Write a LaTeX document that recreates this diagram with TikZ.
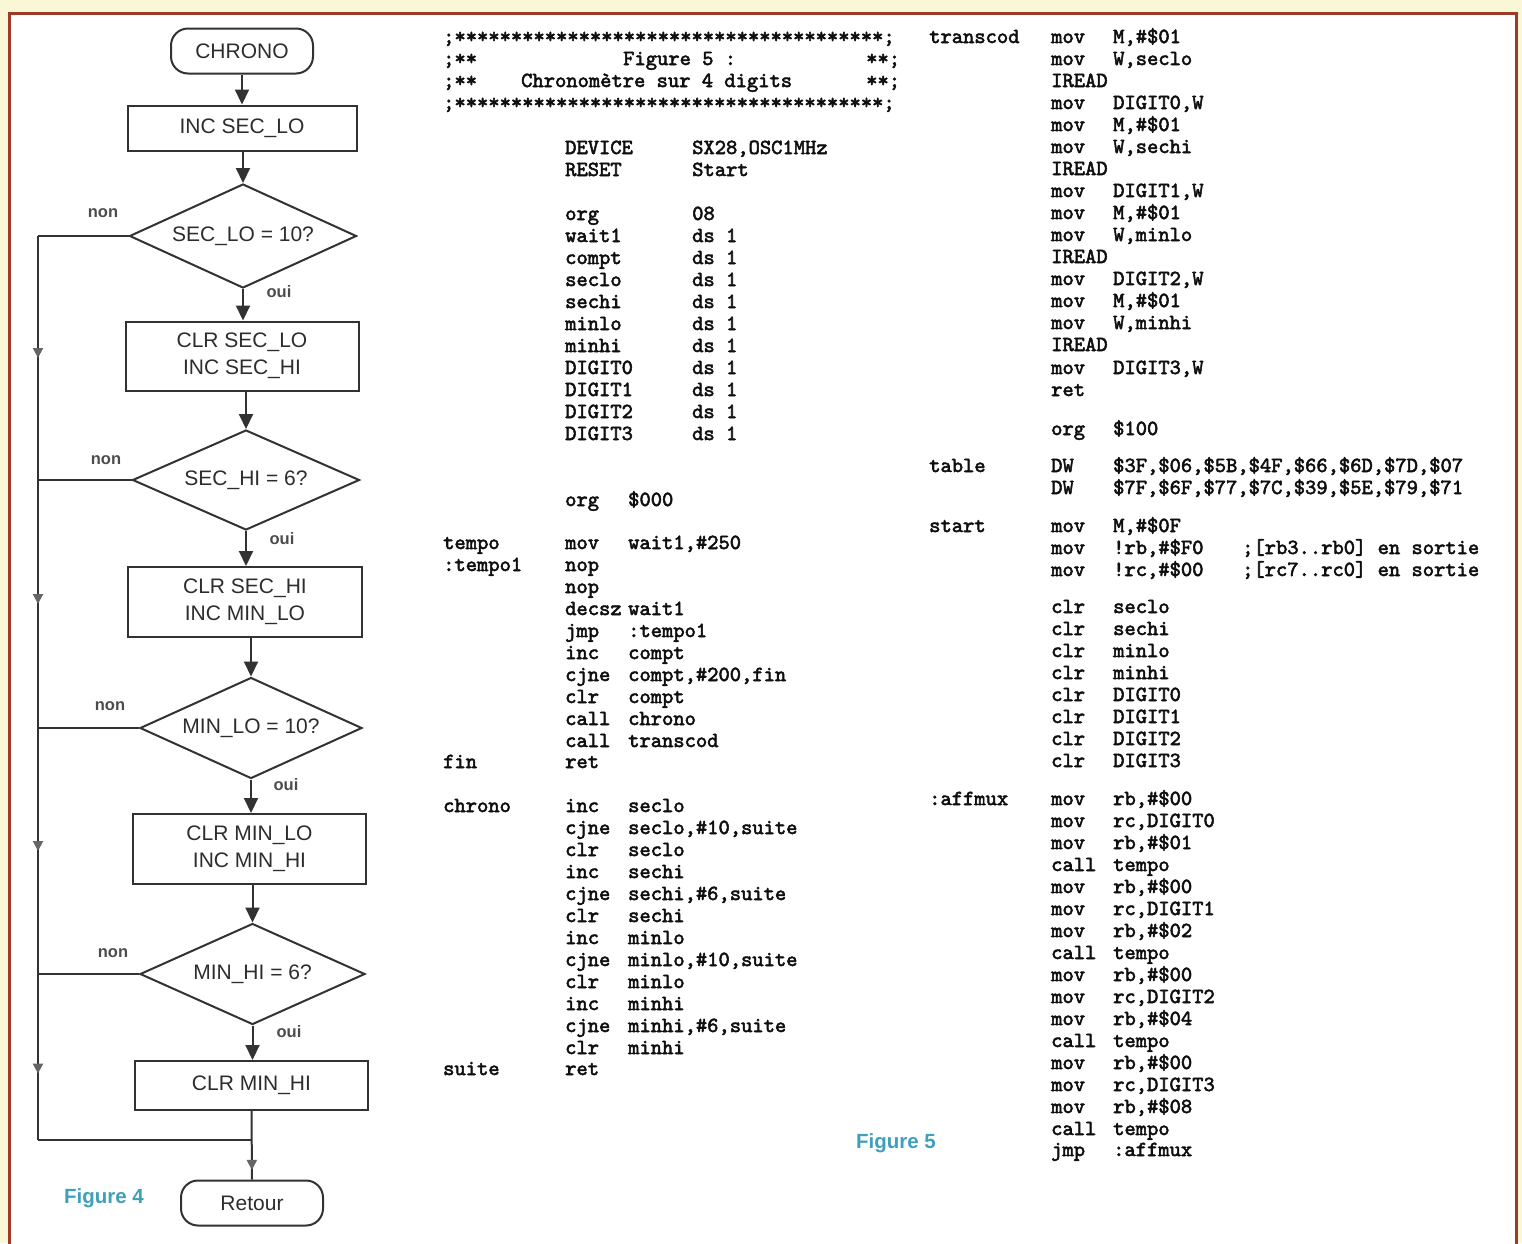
\documentclass[tikz,border=0pt]{standalone}
\usepackage{fontspec}
\usetikzlibrary{shapes.geometric,arrows.meta,decorations.markings}
\newfontfamily\flowfont{Liberation Sans}
\newfontfamily\codefont{lmmono10-regular.otf}[FakeBold=2.5]
\definecolor{bgy}{RGB}{250,247,214}
\definecolor{bord}{RGB}{158,58,40}
\definecolor{lc}{RGB}{50,50,50}
\definecolor{tc}{RGB}{45,45,45}
\definecolor{tealf}{RGB}{62,160,186}
\definecolor{codec}{RGB}{15,15,15}
\newcounter{ln}
\newcommand\cl[6][63pt]{\stepcounter{ln}\node[code] (c\theln) at (#2,#3) {\makebox[122pt][l]{#4}\makebox[#1][l]{#5}#6};}
\newcommand\ct[3]{\stepcounter{ln}\node[code] (c\theln) at (#1,#2) {#3};}
\tikzset{
  fl/.style={draw=lc, line width=2pt},
  proc/.style={fl, rectangle, font=\flowfont\fontsize{21}{27}\selectfont, align=center, text=tc, inner sep=0pt},
  dec/.style={fl, diamond, shape aspect=2.2, font=\flowfont\fontsize{21}{24}\selectfont, text=tc, inner sep=0pt},
  term/.style={fl, rectangle, rounded corners=17pt, font=\flowfont\fontsize{21}{24}\selectfont, text=tc, inner sep=0pt, minimum width=142pt, minimum height=45pt},
  arr/.style={draw=lc, line width=2pt, -{Triangle[width=14pt,length=15pt]}},
  yn/.style={font=\flowfont\bfseries\fontsize{16.5}{18}\selectfont, text=tc!85},
  figlbl/.style={font=\flowfont\bfseries\fontsize{20.5}{24}\selectfont, text=tealf},
  code/.style={anchor=base west, inner sep=0pt, text=codec, font=\codefont\fontsize{21.5}{22}\selectfont},
  midarrow/.style={postaction={decorate}, decoration={markings, mark=at position #1 with {\arrow[lc!75]{Triangle[width=10pt,length=10pt]}}}}
}
\begin{document}
\begin{tikzpicture}[x=1pt,y=-1pt]
\useasboundingbox (0,0) rectangle (1522,1243);
\clip (0,0) rectangle (1522,1243);
\fill[bgy] (0,0) rectangle (1522,1243);
\draw[bord, line width=3pt, fill=white] (9,13) rectangle (1516,1260);

% ---------- flowchart ----------
\node[term] (chrono) at (242,51) {CHRONO};
\node[proc, minimum width=229pt, minimum height=45pt] (b1) at (242,128) {INC SEC\_LO};
\node[dec, minimum width=227pt, minimum height=104pt] (d1) at (243,236) {SEC\_LO = 10?};
\node[proc, minimum width=233pt, minimum height=69pt] (b2) at (242,356) {CLR SEC\_LO\\INC SEC\_HI};
\node[dec, minimum width=227pt, minimum height=100pt] (d2) at (246,480) {SEC\_HI = 6?};
\node[proc, minimum width=234pt, minimum height=70pt] (b3) at (245,602) {CLR SEC\_HI\\INC MIN\_LO};
\node[dec, minimum width=222pt, minimum height=101pt] (d3) at (251,728) {MIN\_LO = 10?};
\node[proc, minimum width=233pt, minimum height=70pt] (b4) at (249.5,849) {CLR MIN\_LO\\INC MIN\_HI};
\node[dec, minimum width=225pt, minimum height=101pt] (d4) at (252.5,974) {MIN\_HI = 6?};
\node[proc, minimum width=233pt, minimum height=49pt] (b5) at (251.5,1085.5) {CLR MIN\_HI};
\node[term] (ret) at (252,1203) {Retour};

\draw[arr] (chrono.south) -- (b1.north);
\draw[arr] (d1.north |- b1.south) -- (d1.north);
\draw[arr] (d1.south) -- (b2.north -| d1.south);
\draw[arr] (d2.north |- b2.south) -- (d2.north);
\draw[arr] (d2.south) -- (b3.north -| d2.south);
\draw[arr] (d3.north |- b3.south) -- (d3.north);
\draw[arr] (d3.south) -- (b4.north -| d3.south);
\draw[arr] (d4.north |- b4.south) -- (d4.north);
\draw[arr] (d4.south) -- (b5.north -| d4.south);

\coordinate (L) at (38,0);
\coordinate (M) at (252,1140);
\draw[fl] (d1.west) -- (d1.west -| L);
\draw[fl] (d2.west) -- (d2.west -| L);
\draw[fl] (d3.west) -- (d3.west -| L);
\draw[fl] (d4.west) -- (d4.west -| L);
\draw[fl, midarrow=0.5] (d1.west -| L) -- (d2.west -| L);
\draw[fl, midarrow=0.5] (d2.west -| L) -- (d3.west -| L);
\draw[fl, midarrow=0.5] (d3.west -| L) -- (d4.west -| L);
\draw[fl, midarrow=0.6] (d4.west -| L) -- (L |- M);
\draw[fl] (L |- M) -- (M);
\draw[fl, midarrow=0.86] (b5.south) -- (ret.north);

\node[yn] (n1) at (103,213) {non};
\node[yn] (n2) at (106,460) {non};
\node[yn] (n3) at (110,706) {non};
\node[yn] (n4) at (113,953) {non};
\node[yn] (o1) at (279,292) {oui};
\node[yn] (o2) at (282,539) {oui};
\node[yn] (o3) at (286,785) {oui};
\node[yn] (o4) at (289,1032) {oui};

\node[figlbl] (fig4) at (104,1198) {Figure 4};
\node[figlbl] (fig5) at (896,1143) {Figure 5};

% ---------- middle listing ----------
\ct{443}{43}{;**************************************;}
\ct{443}{65}{;**}
\ct{623}{65}{Figure 5 :}
\ct{866}{65}{**;}
\ct{443}{87}{;**}
\ct{521}{87}{Chronomètre sur 4 digits}
\ct{866}{87}{**;}
\ct{443}{109}{;**************************************;}

\cl[127pt]{443}{154}{}{DEVICE}{SX28,OSC1MHz}
\cl[127pt]{443}{176}{}{RESET}{Start}
\cl[127pt]{443}{220}{}{org}{08}
\cl[127pt]{443}{242}{}{wait1}{ds 1}
\cl[127pt]{443}{264}{}{compt}{ds 1}
\cl[127pt]{443}{286}{}{seclo}{ds 1}
\cl[127pt]{443}{308}{}{sechi}{ds 1}
\cl[127pt]{443}{330}{}{minlo}{ds 1}
\cl[127pt]{443}{352}{}{minhi}{ds 1}
\cl[127pt]{443}{374}{}{DIGIT0}{ds 1}
\cl[127pt]{443}{396}{}{DIGIT1}{ds 1}
\cl[127pt]{443}{418}{}{DIGIT2}{ds 1}
\cl[127pt]{443}{440}{}{DIGIT3}{ds 1}

\cl{443}{506}{}{org}{\$000}
\cl{443}{549}{tempo}{mov}{wait1,\#250}
\cl{443}{571}{:tempo1}{nop}{}
\cl{443}{593}{}{nop}{}
\cl{443}{615}{}{decsz}{wait1}
\cl{443}{637}{}{jmp}{:tempo1}
\cl{443}{659}{}{inc}{compt}
\cl{443}{681}{}{cjne}{compt,\#200,fin}
\cl{443}{703}{}{clr}{compt}
\cl{443}{725}{}{call}{chrono}
\cl{443}{747}{}{call}{transcod}
\cl{443}{768}{fin}{ret}{}

\cl{443}{812}{chrono}{inc}{seclo}
\cl{443}{834}{}{cjne}{seclo,\#10,suite}
\cl{443}{856}{}{clr}{seclo}
\cl{443}{878}{}{inc}{sechi}
\cl{443}{900}{}{cjne}{sechi,\#6,suite}
\cl{443}{922}{}{clr}{sechi}
\cl{443}{944}{}{inc}{minlo}
\cl{443}{966}{}{cjne}{minlo,\#10,suite}
\cl{443}{988}{}{clr}{minlo}
\cl{443}{1010}{}{inc}{minhi}
\cl{443}{1032}{}{cjne}{minhi,\#6,suite}
\cl{443}{1054}{}{clr}{minhi}
\cl{443}{1075}{suite}{ret}{}

% ---------- right listing ----------
\cl[62pt]{929}{43}{transcod}{mov}{M,\#\$01}
\cl[62pt]{929}{65}{}{mov}{W,seclo}
\cl[62pt]{929}{87}{}{IREAD}{}
\cl[62pt]{929}{109}{}{mov}{DIGIT0,W}
\cl[62pt]{929}{131}{}{mov}{M,\#\$01}
\cl[62pt]{929}{153}{}{mov}{W,sechi}
\cl[62pt]{929}{175}{}{IREAD}{}
\cl[62pt]{929}{197}{}{mov}{DIGIT1,W}
\cl[62pt]{929}{219}{}{mov}{M,\#\$01}
\cl[62pt]{929}{241}{}{mov}{W,minlo}
\cl[62pt]{929}{263}{}{IREAD}{}
\cl[62pt]{929}{285}{}{mov}{DIGIT2,W}
\cl[62pt]{929}{307}{}{mov}{M,\#\$01}
\cl[62pt]{929}{329}{}{mov}{W,minhi}
\cl[62pt]{929}{351}{}{IREAD}{}
\cl[62pt]{929}{374}{}{mov}{DIGIT3,W}
\cl[62pt]{929}{396}{}{ret}{}
\cl[62pt]{929}{435}{}{org}{\$100}
\cl[62pt]{929}{472}{table}{DW}{\$3F,\$06,\$5B,\$4F,\$66,\$6D,\$7D,\$07}
\cl[62pt]{929}{494}{}{DW}{\$7F,\$6F,\$77,\$7C,\$39,\$5E,\$79,\$71}
\cl[62pt]{929}{532}{start}{mov}{M,\#\$0F}
\cl[62pt]{929}{554}{}{mov}{\makebox[129pt][l]{!rb,\#\$F0};[rb3..rb0] en sortie}
\cl[62pt]{929}{576}{}{mov}{\makebox[129pt][l]{!rc,\#\$00};[rc7..rc0] en sortie}
\cl[62pt]{929}{613}{}{clr}{seclo}
\cl[62pt]{929}{635}{}{clr}{sechi}
\cl[62pt]{929}{657}{}{clr}{minlo}
\cl[62pt]{929}{679}{}{clr}{minhi}
\cl[62pt]{929}{701}{}{clr}{DIGIT0}
\cl[62pt]{929}{723}{}{clr}{DIGIT1}
\cl[62pt]{929}{745}{}{clr}{DIGIT2}
\cl[62pt]{929}{767}{}{clr}{DIGIT3}
\cl[62pt]{929}{805}{:affmux}{mov}{rb,\#\$00}
\cl[62pt]{929}{827}{}{mov}{rc,DIGIT0}
\cl[62pt]{929}{849}{}{mov}{rb,\#\$01}
\cl[62pt]{929}{871}{}{call}{tempo}
\cl[62pt]{929}{893}{}{mov}{rb,\#\$00}
\cl[62pt]{929}{915}{}{mov}{rc,DIGIT1}
\cl[62pt]{929}{937}{}{mov}{rb,\#\$02}
\cl[62pt]{929}{959}{}{call}{tempo}
\cl[62pt]{929}{981}{}{mov}{rb,\#\$00}
\cl[62pt]{929}{1003}{}{mov}{rc,DIGIT2}
\cl[62pt]{929}{1025}{}{mov}{rb,\#\$04}
\cl[62pt]{929}{1047}{}{call}{tempo}
\cl[62pt]{929}{1069}{}{mov}{rb,\#\$00}
\cl[62pt]{929}{1091}{}{mov}{rc,DIGIT3}
\cl[62pt]{929}{1113}{}{mov}{rb,\#\$08}
\cl[62pt]{929}{1135}{}{call}{tempo}
\cl[62pt]{929}{1156}{}{jmp}{:affmux}
\end{tikzpicture}
\end{document}
